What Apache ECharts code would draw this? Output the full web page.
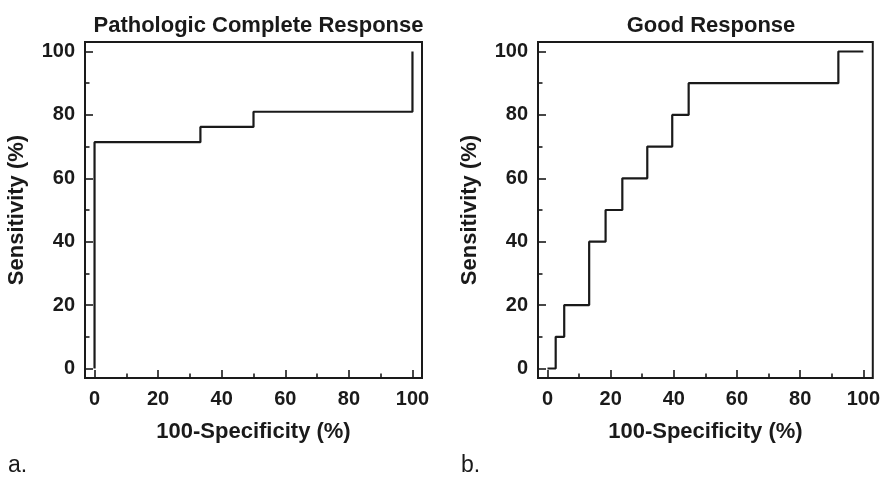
<!DOCTYPE html>
<html>
<head>
<meta charset="utf-8">
<script src="https://cdn.jsdelivr.net/npm/echarts@6/dist/echarts.min.js"></script>
<style>html,body{margin:0;padding:0;background:#fff}#c{width:883px;height:477px}</style>
</head>
<body>
<div id="c"></div>
<script>
// Panel a: Pathologic Complete Response (ROC corner points, step after)
const fprA = [0, 0, 33.3, 50, 100];
const tprA = [0, 71.4, 76.2, 81.0, 100];
// Panel b: Good Response
const fprB = [0, 2.6, 5.3, 13.2, 18.4, 23.7, 31.6, 39.5, 44.7, 92.1, 100];
const tprB = [0, 10, 20, 40, 50, 60, 70, 80, 90, 100, 100];
const majorTicks = [0, 20, 40, 60, 80, 100];
const minorTicks = [10, 30, 50, 70, 90];
const titles = ['Pathologic Complete Response', 'Good Response'];
const panelLabels = ['a.', 'b.'];
const xName = '100-Specificity (%)';
const yName = 'Sensitivity (%)';

const INK = '#1a1a1a';
const FONT = '"Liberation Sans", Arial, Helvetica, sans-serif';
const grids = [
  {left: 85, top: 42, width: 337, height: 336},
  {left: 538, top: 42, width: 336, height: 336}
];

function majorAxis(dim, gi) {
  const isX = dim === 'x';
  return {
    type: 'value', gridIndex: gi, min: -3, max: 103,
    position: isX ? 'bottom' : 'left',
    name: isX ? xName : yName,
    nameLocation: 'middle',
    nameGap: isX ? 43 : 57,
    nameTextStyle: {fontFamily: FONT, fontWeight: 'bold', fontSize: 22, color: INK},
    axisLine: {show: false, onZero: false},
    axisTick: {show: true, inside: true, length: 8, customValues: majorTicks, lineStyle: {color: INK, width: 1.6}},
    axisLabel: {show: true, customValues: majorTicks, margin: isX ? 11 : 10,
      fontFamily: FONT, fontWeight: 'bold', fontSize: 20, color: INK},
    splitLine: {show: false}
  };
}
function minorAxis(dim, gi) {
  const isX = dim === 'x';
  return {
    type: 'value', gridIndex: gi, min: -3, max: 103,
    position: isX ? 'bottom' : 'left',
    axisLine: {show: false, onZero: false},
    axisTick: {show: true, inside: true, length: 4.5, customValues: minorTicks, lineStyle: {color: INK, width: 1.6}},
    axisLabel: {show: false},
    splitLine: {show: false}
  };
}

const chart = echarts.init(document.getElementById('c'), null, {renderer: 'canvas'});
const option = {
  animation: false,
  backgroundColor: '#fff',
  title: grids.map((g, i) => ({
    text: titles[i],
    left: g.left + g.width / 2, top: 10, textAlign: 'center',
    textStyle: {fontFamily: FONT, fontWeight: 'bold', fontSize: 22, color: INK}
  })),
  grid: grids.map(g => Object.assign({show: true, borderColor: INK, borderWidth: 2, backgroundColor: 'transparent'}, g)),
  xAxis: [majorAxis('x', 0), minorAxis('x', 0), majorAxis('x', 1), minorAxis('x', 1)],
  yAxis: [majorAxis('y', 0), minorAxis('y', 0), majorAxis('y', 1), minorAxis('y', 1)],
  graphic: panelLabels.map((t, i) => ({
    type: 'text', left: i === 0 ? 8 : 461, top: 454,
    style: {text: t, fontFamily: '"Liberation Sans Narrow", "Liberation Sans", Arial, sans-serif', fontSize: 23, fill: INK}
  })),
  series: [
    {type: 'line', xAxisIndex: 0, yAxisIndex: 0, step: 'end', symbol: 'none',
     lineStyle: {color: INK, width: 2.2}, data: fprA.map((x, i) => [x, tprA[i]])},
    {type: 'line', xAxisIndex: 2, yAxisIndex: 2, step: 'end', symbol: 'none',
     lineStyle: {color: INK, width: 2.2}, data: fprB.map((x, i) => [x, tprB[i]])}
  ]
};
chart.setOption(option);
</script>
</body>
</html>
